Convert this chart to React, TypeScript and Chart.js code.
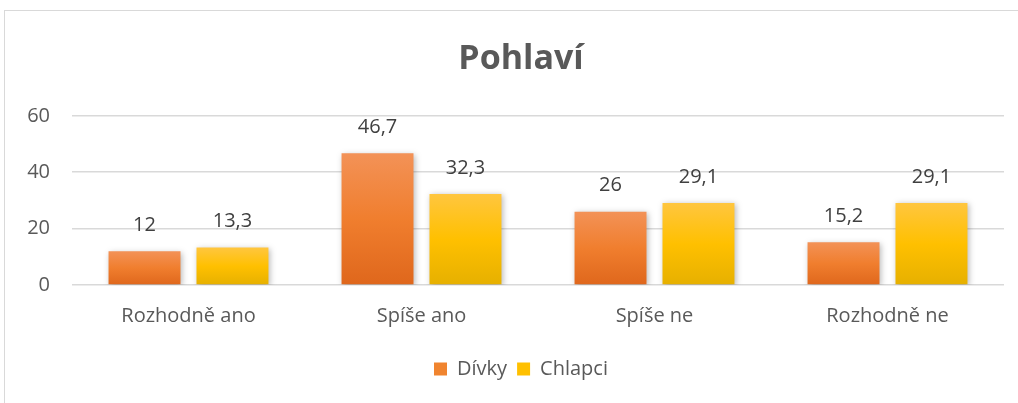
import React, { useEffect, useRef } from "react";
import { Chart, registerables } from "chart.js";

Chart.register(...registerables);

const categories = ["Rozhodně ano", "Spíše ano", "Spíše ne", "Rozhodně ne"];
const divky = [12, 46.7, 26, 15.2];
const chlapci = [13.3, 32.3, 29.1, 29.1];
const seriesNames = ["Dívky", "Chlapci"];
const yTicks = [0, 20, 40, 60];

const FONT = "'Open Sans', 'Liberation Sans', sans-serif";
const FS = 20;

const orangeStops = ["#F39257", "#F07E2E", "#DF671C"];
const yellowStops = ["#FFC63F", "#FFC000", "#E6B000"];

function gradFill(stops: string[], solid: string) {
  return (ctx: any) => {
    if (ctx.type !== "data") return solid;
    const chart = ctx.chart;
    const y = chart.scales && chart.scales.y;
    if (!y) return solid;
    const top = y.getPixelForValue(ctx.raw);
    const bot = y.getPixelForValue(0);
    if (!isFinite(top) || !isFinite(bot) || top === bot) return solid;
    const g = chart.ctx.createLinearGradient(0, top, 0, bot);
    g.addColorStop(0, stops[0]);
    g.addColorStop(0.5, stops[1]);
    g.addColorStop(1, stops[2]);
    return g;
  };
}

const fmt = (v: number) => String(v).replace(".", ",");

const barDecor = {
  id: "barDecor",
  beforeDatasetsDraw(chart: any) {
    const c = chart.ctx;
    c.save();
    c.shadowColor = "rgba(0,0,0,0.28)";
    c.shadowBlur = 6;
    c.shadowOffsetX = 1.5;
    c.shadowOffsetY = 1.5;
  },
  afterDatasetsDraw(chart: any) {
    const c = chart.ctx;
    c.restore();
    c.save();
    c.font = `${FS}px ${FONT}`;
    c.fillStyle = "#404040";
    c.textAlign = "center";
    c.textBaseline = "middle";
    chart.data.datasets.forEach((ds: any, i: number) => {
      const meta = chart.getDatasetMeta(i);
      meta.data.forEach((el: any, j: number) => {
        c.fillText(fmt(ds.data[j]), el.x, el.y - 26);
      });
    });
    c.restore();
  },
};

export default function App() {
  const ref = useRef<HTMLCanvasElement>(null);
  useEffect(() => {
    if (!ref.current) return;
    const legendColors = ["#F0842F", "#FFC000"];
    const chart = new Chart(ref.current, {
      type: "bar",
      data: {
        labels: categories,
        datasets: [
          {
            label: seriesNames[0],
            data: divky,
            backgroundColor: gradFill(orangeStops, "#ED7D31") as any,
            categoryPercentage: 0.755,
            barPercentage: 0.818,
          },
          {
            label: seriesNames[1],
            data: chlapci,
            backgroundColor: gradFill(yellowStops, "#FFC000") as any,
            categoryPercentage: 0.755,
            barPercentage: 0.818,
          },
        ],
      },
      options: {
        animation: false,
        responsive: false,
        maintainAspectRatio: false,
        layout: { padding: { left: 24, right: 0, top: 0, bottom: 14 } },
        plugins: {
          title: {
            display: true,
            text: "Pohlaví",
            color: "#595959",
            font: { family: FONT, size: 34, weight: "bold" },
            padding: { top: 39, bottom: 36 },
          },
          legend: {
            display: true,
            position: "bottom",
            labels: {
              color: "#595959",
              font: { family: FONT, size: FS },
              boxWidth: 13,
              boxHeight: 13,
              padding: 10,
              generateLabels: (ch: any) =>
                ch.data.datasets.map((ds: any, i: number) => ({
                  text: ds.label,
                  fillStyle: legendColors[i],
                  strokeStyle: legendColors[i],
                  lineWidth: 0,
                  fontColor: "#595959",
                  hidden: false,
                  datasetIndex: i,
                })),
            },
          },
          tooltip: { enabled: false },
        },
        scales: {
          x: {
            grid: { display: false, drawTicks: false },
            border: { display: false },
            ticks: {
              color: "#595959",
              font: { family: FONT, size: FS },
              padding: 19,
              maxRotation: 0,
            },
            afterFit: (s: any) => {
              s.height = 64;
            },
          },
          y: {
            min: 0,
            max: 60,
            afterBuildTicks: (s: any) => {
              s.ticks = yTicks.map((v) => ({ value: v }));
            },
            grid: { color: "#D9D9D9", lineWidth: 1.5, drawTicks: false },
            border: { display: false },
            ticks: {
              color: "#595959",
              font: { family: FONT, size: FS },
              padding: 22,
            },
            afterFit: (s: any) => {
              s.width = 48;
            },
          },
          yRight: {
            position: "right",
            min: 0,
            max: 60,
            grid: { display: false, drawTicks: false },
            border: { display: false },
            ticks: { display: false },
            afterFit: (s: any) => {
              s.width = 14;
            },
          },
        },
      },
      plugins: [barDecor],
    });
    return () => chart.destroy();
  }, []);

  return (
    <div>
      <div
        style={{
          position: "fixed",
          left: 4,
          top: 10,
          width: 1100,
          height: 500,
          border: "1.5px solid #D9D9D9",
          boxSizing: "border-box",
          background: "#fff",
        }}
      />
      <canvas
        ref={ref}
        width={1018}
        height={403}
        style={{ position: "fixed", left: 0, top: 0, width: 1018, height: 403 }}
      />
    </div>
  );
}
